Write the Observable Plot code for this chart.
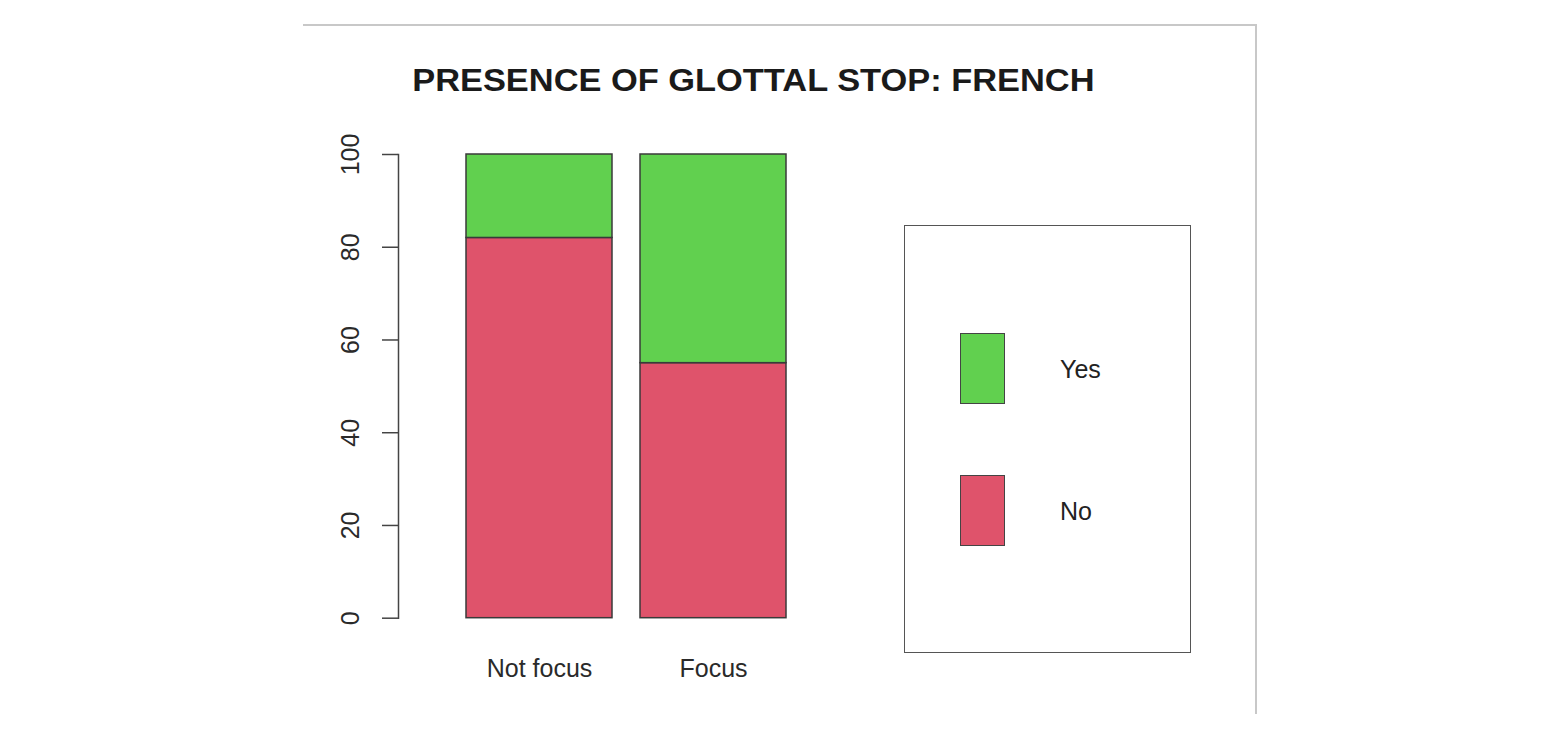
<!DOCTYPE html>
<html>
<head>
<meta charset="utf-8">
<script src="https://cdn.jsdelivr.net/npm/d3@7"></script>
<script src="https://cdn.jsdelivr.net/npm/@observablehq/plot@0.6"></script>
<style>
  html, body { margin: 0; padding: 0; background: #fff; }
  #page { position: relative; width: 1563px; height: 741px; overflow: hidden; background: #fff; font-family: "Liberation Sans", Arial, sans-serif; }
  #chart { position: absolute; left: 0; top: 0; }
  .frame-top { position: absolute; left: 303px; top: 24px; width: 953px; height: 0; border-top: 2px solid #c8c8c8; }
  .frame-right { position: absolute; left: 1255px; top: 24px; width: 0; height: 690px; border-left: 2px solid #c8c8c8; }
  #title { position: absolute; left: 0; width: 1506px; top: 62px; text-align: center; font-weight: bold; font-size: 32px; color: #1a1a1a; line-height: 36px; }
  #title span { display: inline-block; transform: scaleX(1.075); transform-origin: center; }
  #legend { position: absolute; left: 904px; top: 225px; width: 287px; height: 428px; border: 1.5px solid #555; box-sizing: border-box; }
  .sw { position: absolute; left: 55px; width: 45px; height: 71px; border: 1.5px solid #444; box-sizing: border-box; }
  .lab { position: absolute; left: 155px; font-size: 25px; color: #222; line-height: 30px; }
</style>
</head>
<body>
<div id="page">
  <div id="chart"></div>
  <div class="frame-top"></div>
  <div class="frame-right"></div>
  <div id="title"><span></span></div>
  <div id="legend"></div>
</div>
<script>
const chartTitle = "PRESENCE OF GLOTTAL STOP: FRENCH";
const categories = ["Not focus", "Focus"];
const responses = ["No", "Yes"];
const noValues = [82, 55];
const yesValues = [18, 45];
const yTicks = [0, 20, 40, 60, 80, 100];
const legendOrder = ["Yes", "No"];
const colors = { No: "#DF536B", Yes: "#61D04F" };

const rows = [];
categories.forEach((c, i) => {
  rows.push({ cat: c, resp: "No", value: noValues[i] });
  rows.push({ cat: c, resp: "Yes", value: yesValues[i] });
});

const chart = Plot.plot({
  width: 1563,
  height: 741,
  marginLeft: 398,
  marginRight: 1563 - 787,
  marginTop: 154,
  marginBottom: 741 - 617.7,
  style: { fontFamily: "Liberation Sans, Arial, sans-serif", fontSize: "25px", color: "#222", background: "transparent" },
  x: { domain: categories, range: [465.7, 786.7], paddingInner: 0.16, paddingOuter: 0, axis: null },
  y: { domain: [0, 100], axis: null, label: null },
  color: { domain: responses, range: responses.map(r => colors[r]) },
  marks: [
    Plot.barY(rows, { x: "cat", y: "value", fill: "resp", stroke: "#3a3a3a", strokeWidth: 1.5, order: responses }),
    Plot.frame({ anchor: "left", stroke: "#444", strokeWidth: 1.5 }),
    Plot.axisY({ ticks: yTicks, tickSize: 16, tickFormat: () => "", label: null, stroke: "#444", strokeWidth: 1.5 }),
    Plot.text(yTicks, { y: d => d, text: d => String(d), frameAnchor: "left", textAnchor: "middle", lineAnchor: "middle", dx: -48, rotate: -90, fontSize: 25, fill: "#2a2a2a" }),
    Plot.text(categories, { x: d => d, text: d => d, frameAnchor: "bottom", dy: 59, fontSize: 25, fill: "#2a2a2a" })
  ]
});
document.getElementById("chart").appendChild(chart);

document.querySelector("#title span").textContent = chartTitle;

const legend = document.getElementById("legend");
const swTops = { Yes: 107, No: 249 };
legendOrder.forEach(r => {
  const sw = document.createElement("div");
  sw.className = "sw";
  sw.style.top = swTops[r] + "px";
  sw.style.background = colors[r];
  legend.appendChild(sw);
  const lab = document.createElement("div");
  lab.className = "lab";
  lab.style.top = (swTops[r] + 35.5 - 15) + "px";
  lab.textContent = r;
  legend.appendChild(lab);
});
</script>
</body>
</html>
